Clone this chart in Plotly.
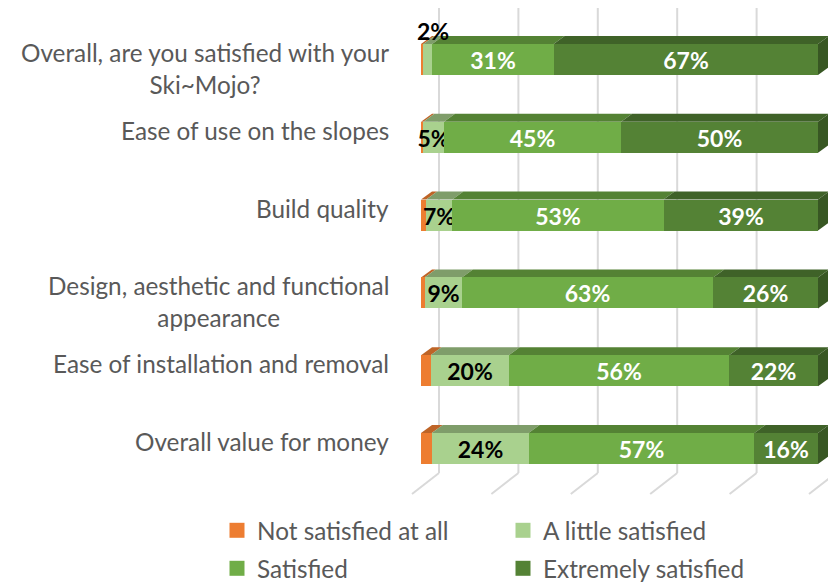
import plotly.graph_objects as go

categories = [
    "Overall, are you satisfied with your<br>Ski~Mojo?",
    "Ease of use on the slopes",
    "Build quality",
    "Design, aesthetic and functional<br>appearance",
    "Ease of installation and removal",
    "Overall value for money",
]
not_satisfied = [0.6, 0.6, 1.3, 0.9, 2.4, 2.7]
a_little = [2.2, 5.2, 6.6, 9.4, 19.7, 24.4]
satisfied = [30.6, 44.6, 53.2, 63.3, 55.5, 56.9]
extremely = [66.6, 49.6, 38.9, 26.4, 22.4, 16.0]
grid_ticks = [0, 20, 40, 60, 80, 100]

series = [
    ("Not satisfied at all", not_satisfied, "#ED7D31", "#BE6427", None),
    ("A little satisfied", a_little, "#A9D18E", "#7F9D6A", "black"),
    ("Satisfied", satisfied, "#70AD47", "#548234", "white"),
    ("Extremely satisfied", extremely, "#548235", "#3F6228", "white"),
]
FONT = "Lato"

# pixel geometry in page pixels; the page body has an 8px margin
BODY = 8
PL, PR, PT, PB = 400, 836, BODY, 500
X0, PX_PCT = 421, 3.97
Y0, PX_ROW = 59.5, 77.8
BAR_PX = 31
DX, DY = 11 / PX_PCT, -8 / PX_ROW
rows = list(range(len(categories)))
half = BAR_PX / PX_ROW / 2


def y_of(px):
    return (px - Y0) / PX_ROW


shapes = []
for t in grid_ticks:
    xb = t + 18 / PX_PCT
    xf = t - 9 / PX_PCT
    line = dict(color="#D9D9D9", width=2)
    shapes.append(dict(type="line", xref="x", yref="y", x0=xb, x1=xb,
                       y0=y_of(5), y1=y_of(473), line=line, layer="below"))
    shapes.append(dict(type="line", xref="x", yref="y", x0=xf, x1=xb,
                       y0=y_of(494), y1=y_of(473), line=line, layer="below"))

fig = go.Figure()
cum = [0.0] * len(rows)
for name, vals, col, top, tcol in series:
    for r in rows:
        a, b = cum[r], cum[r] + vals[r]
        yt = r - half
        path = f"M{a},{yt}L{b},{yt}L{b + DX},{yt + DY}L{a + DX},{yt + DY}Z"
        shapes.append(dict(type="path", xref="x", yref="y", path=path,
                           fillcolor=top, line=dict(width=0), layer="below"))
    labels = [f"{round(v)}%" if tcol else "" for v in vals]
    if name == "A little satisfied":
        labels[0] = ""
    fig.add_trace(go.Bar(
        y=rows, x=vals, orientation="h", name=name, width=BAR_PX / PX_ROW,
        marker=dict(color=col, line=dict(width=0)), showlegend=False,
        text=labels, textposition="inside", insidetextanchor="middle",
        textangle=0, constraintext="none", cliponaxis=False,
        textfont=dict(family=FONT, size=23, color=tcol or "black", weight="bold"),
        hoverinfo="skip",
    ))
    cum = [c + v for c, v in zip(cum, vals)]

# right end cap
for r in rows:
    e = cum[r]
    yt, yb = r - half, r + half
    shapes.append(dict(type="path", xref="x", yref="y",
                       path=f"M{e},{yt}L{e + DX},{yt + DY}L{e + DX},{yb + DY}L{e},{yb}Z",
                       fillcolor="#385723", line=dict(width=0), layer="below"))

# legend entries, two rows
for i, (name, vals, col, top, tcol) in enumerate(series):
    fig.add_trace(go.Scatter(
        x=[None], y=[None], mode="markers", name=name,
        marker=dict(symbol="square", size=15, color=col),
        legend="legend" if i < 2 else "legend2",
    ))

annotations = []
for r, c in zip(rows, categories):
    annotations.append(dict(
        text=c, xref="paper", x=(390 - PL) / (PR - PL), xanchor="right", align="center",
        yref="y", y=r, yanchor="top", yshift=22.5, showarrow=False, borderpad=0,
        font=dict(family=FONT, size=24.3, color="#595959"),
    ))
annotations.append(dict(
    text=f"<b>{round(a_little[0])}%</b>", xref="x", yref="y", x=(433 - X0) / PX_PCT, y=y_of(30.5),
    showarrow=False, font=dict(family=FONT, size=23, color="black"),
))

leg = dict(orientation="h", xanchor="left", yanchor="top", bgcolor="rgba(0,0,0,0)",
           font=dict(family=FONT, size=24.3, color="#595959"),
           entrywidth=241, entrywidthmode="pixels", traceorder="normal",
           itemclick=False, itemdoubleclick=False)

fig.update_layout(
    width=836 - BODY, height=584 - BODY, barmode="stack", bargap=0,
    paper_bgcolor="white", plot_bgcolor="white",
    margin=dict(l=PL - BODY, r=836 - PR, t=PT - BODY, b=584 - PB, autoexpand=False, pad=0),
    xaxis=dict(range=[(PL - X0) / PX_PCT, (PR - X0) / PX_PCT], visible=False, showgrid=False, zeroline=False),
    yaxis=dict(range=[y_of(PB), y_of(PT)], visible=False, showgrid=False, zeroline=False),
    shapes=shapes, annotations=annotations,
    legend=dict(leg, x=(217 - PL) / (PR - PL), y=(PB - 508) / (PB - PT)),
    legend2=dict(leg, x=(217 - PL) / (PR - PL), y=(PB - 546) / (PB - PT)),
)
fig.write_html("out.html")
